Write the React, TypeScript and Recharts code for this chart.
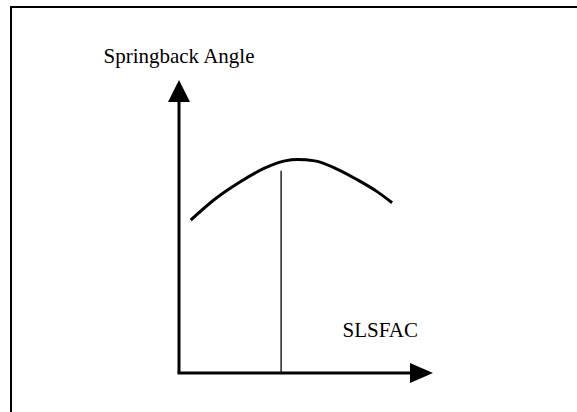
import React from 'react';
import { LineChart, Line, XAxis, YAxis, ReferenceLine, ReferenceDot } from 'recharts';

// curve (arbitrary 0..100 units on both axes)
const curveX = [4.6, 14.2, 24.0, 33.9, 41.7, 46.5, 53.5, 62.2, 70.1, 78.0, 83.9];
const curveY = [52.2, 59.4, 65.2, 70.0, 72.4, 72.9, 72.4, 69.6, 66.0, 61.9, 58.1];

// vertical marker line
const markerX = 40.2;
const markerTop = 69;

// axis extents
const axisMax = 100;
const yShaftTop = 92.5;
const xShaftEnd = 91;

const yLabel = 'Springback Angle';
const xLabel = 'SLSFAC';
const xLabelPos = { x: 64.4, y: 12.4 };

const FONT = 'Liberation Serif, Times New Roman, serif';

const data = curveX.map((x, i) => ({ x, y: curveY[i] }));

const UpArrow = (props: any) => {
    const { cx, cy } = props;
    return (
        <g>
            <polygon points={`${cx},${cy} ${cx - 11},${cy + 22} ${cx + 11},${cy + 22}`} fill="#000" />
            <text x={cx} y={cy - 17} textAnchor="middle" style={{ fontFamily: FONT, fontSize: 21 }} fill="#000">
                {yLabel}
            </text>
        </g>
    );
};

const RightArrow = (props: any) => {
    const { cx, cy } = props;
    return <polygon points={`${cx},${cy} ${cx - 23},${cy - 10} ${cx - 23},${cy + 10}`} fill="#000" />;
};

const XText = (props: any) => {
    const { cx, cy } = props;
    return (
        <text x={cx} y={cy} textAnchor="start" style={{ fontFamily: FONT, fontSize: 21 }} fill="#000">
            {xLabel}
        </text>
    );
};

export default function App() {
    return (
        <div style={{ position: 'fixed', left: 0, top: 0, width: 577, height: 412, overflow: 'hidden', background: '#fff' }}>
            {/* frame, only top and left edges fall inside the picture */}
            <div
                style={{
                    position: 'absolute',
                    left: 10,
                    top: 6,
                    width: 700,
                    height: 600,
                    borderTop: '2px solid #000',
                    borderLeft: '2px solid #000',
                }}
            />
            <div style={{ position: 'absolute', left: 0, top: 0 }}>
                <LineChart width={577} height={412} data={data} margin={{ top: 80, right: 144, bottom: 39, left: 179 }}>
                    <XAxis type="number" dataKey="x" domain={[0, axisMax]} hide />
                    <YAxis type="number" domain={[0, axisMax]} hide />
                    <ReferenceLine segment={[{ x: 0, y: 0 }, { x: 0, y: yShaftTop }]} stroke="#000" strokeWidth={3} />
                    <ReferenceLine segment={[{ x: -0.6, y: 0 }, { x: xShaftEnd, y: 0 }]} stroke="#000" strokeWidth={3} ifOverflow="visible" />
                    <ReferenceLine segment={[{ x: markerX, y: 0 }, { x: markerX, y: markerTop }]} stroke="#000" strokeWidth={1.3} />
                    <ReferenceDot x={0} y={axisMax} r={0} shape={UpArrow} />
                    <ReferenceDot x={axisMax} y={0} r={0} shape={RightArrow} />
                    <ReferenceDot x={xLabelPos.x} y={xLabelPos.y} r={0} shape={XText} />
                    <Line type="monotone" dataKey="y" stroke="#000" strokeWidth={3} dot={false} isAnimationActive={false} />
                </LineChart>
            </div>
        </div>
    );
}
